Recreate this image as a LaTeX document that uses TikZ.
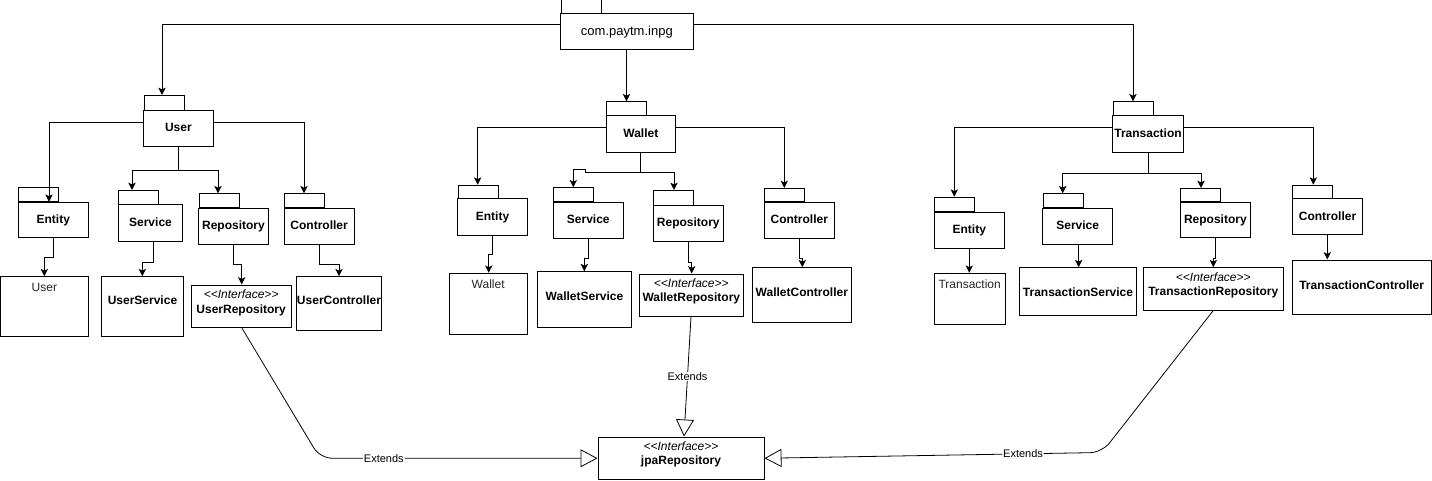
\documentclass[tikz,border=0pt]{standalone}
\usepackage{fontspec}
\setmainfont{Liberation Sans}
\usetikzlibrary{arrows.meta}

% folder-shaped package: body node #2 (with text), tab node #2T above it
% [opts]{name}{left}{top}{right}{bottom}{tab top}{text}
\newcommand\folder[8][]{%
  \node[pkgbody, minimum width={(#5-#3)*0.75pt}, minimum height={(#6-#4)*0.75pt}, #1]
    (#2) at ({(#3+#5)/2},{(#4+#6)/2}) {#8};
  \node[tabbox, minimum height={(#4-#7)*0.75pt}, anchor=south west] (#2T) at (#3,#4) {};
}
% plain class box: {name}{left}{top}{right}{bottom}
\newcommand\cbox[5]{%
  \node[cls, minimum width={(#4-#2)*0.75pt}, minimum height={(#5-#3)*0.75pt}]
    (#1) at ({(#2+#4)/2},{(#3+#5)/2}) {};
}
% text of a class box: [opts]{box}{y}{text}
\newcommand\ctext[4][]{\node[clstext, #1] (#2X) at (#2.center |- 0,#3) {#4};}
\newcommand\iface{{\mdseries\itshape <\kern0pt<Interface>\kern0pt>}}

\begin{document}
\begin{tikzpicture}[x=0.75pt, y=-0.75pt,
  pkgbody/.style={draw, line width=0.75pt, fill=white, inner sep=0pt,
    text height=6.5pt, text depth=1.9pt,
    font=\fontsize{9pt}{10.8pt}\selectfont\bfseries},
  tabbox/.style={draw, line width=0.75pt, inner sep=0pt, minimum width=30pt},
  cls/.style={draw, line width=0.75pt, inner sep=0pt},
  clstext/.style={inner sep=0pt, align=center,
    font=\fontsize{9pt}{10.7pt}\selectfont\bfseries},
  plaintext/.style={font=\fontsize{9pt}{10.7pt}\selectfont\mdseries, text=black!85},
  conn/.style={line width=0.75pt, -{Stealth[length=5.5pt, width=5.5pt, inset=1.3pt]}},
  ext/.style={line width=0.6pt, -{Triangle[open, length=12.75pt, width=13.5pt, line width=0.6pt]}},
  lbl/.style={fill=white, inner sep=0.6pt, font=\fontsize{8.25pt}{10pt}\selectfont}
]
\useasboundingbox (0,0) rectangle (1432,481);

% ---------------- packages ----------------
\folder[font=\fontsize{9.75pt}{12pt}\selectfont\mdseries]{root}{560.7}{14}{693}{50}{0.5}{com.paytm.inpg}

\folder{user}{143.7}{110.7}{213}{146.7}{96}{User}
\folder{uEnt}{18.3}{202.3}{88.3}{237.7}{188.3}{Entity}
\folder{uSrv}{118.3}{205}{182.7}{241.7}{191}{Service}
\folder{uRep}{198.7}{208.3}{268.3}{244.3}{194.3}{Repository}
\folder{uCtl}{284.3}{208.3}{354}{244.3}{194.3}{Controller}

\folder{wal}{606}{116}{675.7}{152.3}{102.3}{Wallet}
\folder{wEnt}{457.7}{199}{527.3}{235.7}{185.7}{Entity}
\folder{wSrv}{553.3}{202.3}{623.3}{238.3}{188.3}{Service}
\folder{wRep}{653.3}{205.7}{723.3}{241.7}{191}{Repository}
\folder{wCtl}{764.3}{202.3}{834.3}{238.3}{189}{Controller}

\folder{tr}{1112.7}{116}{1183.3}{152.3}{102.3}{Transaction}
\folder{tEnt}{934.3}{212.3}{1004.3}{248.3}{197.7}{Entity}
\folder{tSrv}{1042.7}{208.3}{1112.7}{244.3}{194.3}{Service}
\folder{tRep}{1180}{202.3}{1250.7}{237.7}{189}{Repository}
\folder{tCtl}{1292.3}{199}{1362.7}{235}{185.7}{Controller}

% ---------------- classes ----------------
\cbox{uEntC}{0.5}{276.7}{88.3}{336.7}
\cbox{uSrvC}{101.7}{276.7}{183.3}{336.7}
\cbox{uRepC}{191.3}{285}{291}{327.7}
\cbox{uCtlC}{296.3}{276.7}{381.7}{330.7}
\ctext[plaintext]{uEntC}{287}{User}
\ctext{uSrvC}{300.7}{UserService}
\ctext{uRepC}{302.9}{\iface\\UserRepository}
\ctext{uCtlC}{300.7}{UserController}

\cbox{wEntC}{449}{273.3}{527.3}{334}
\cbox{wSrvC}{537.3}{271.7}{631.7}{327.7}
\cbox{wRepC}{639.3}{274}{743.3}{316}
\cbox{wCtlC}{752.7}{267.7}{851}{322.3}
\ctext[plaintext]{wEntC}{284.3}{Wallet}
\ctext{wSrvC}{296.7}{WalletService}
\ctext{wRepC}{291.5}{\iface\\WalletRepository}
\ctext{wCtlC}{292.3}{WalletController}

\cbox{tEntC}{934.3}{273.3}{1005}{324.3}
\cbox{tSrvC}{1019.3}{267.7}{1136.7}{315.7}
\cbox{tRepC}{1143.3}{267.7}{1283.3}{310}
\cbox{tCtlC}{1292.3}{260}{1431}{314.3}
\ctext[plaintext]{tEntC}{284.3}{Transaction}
\ctext{tSrvC}{292.3}{TransactionService}
\ctext{tRepC}{285.7}{\iface\\TransactionRepository}
\ctext{tCtlC}{285}{TransactionController}

\cbox{jpa}{598}{437}{764}{479.5}
\ctext{jpa}{454.6}{\iface\\jpaRepository}

% ---------------- containment arrows ----------------
\draw[conn] (root.west |- 0,25) -| (userT.north -| 162,0);
\draw[conn] (root.south -| 626.5,0) -- (walT.north -| 626.5,0);
\draw[conn] (root.east |- 0,25) -| (trT.north -| 1133,0);

\draw[conn] (user.west |- 0,122.3) -| (uEnt.north -| 49,0);
\draw[conn] (user.south) -- ++(0,23.3) -| (uSrvT.north -| 132,0);
\draw[conn] (user.south) -- ++(0,23.3) -| (uRepT.north -| 218,0);
\draw[conn] (user.east |- 0,122.3) -| (uCtlT.north -| 304,0);
\draw[conn] (uEnt.south -| 53.3,0) -- ++(0,19) -| (uEntC.north -| 44.3,0);
\draw[conn] (uSrv.south -| 153.3,0) -- ++(0,20) -| (uSrvC.north -| 142.3,0);
\draw[conn] (uRep.south -| 233.3,0) -- ++(0,20) -| (uRepC.north -| 241.7,0);
\draw[conn] (uCtl.south -| 319.3,0) -- ++(0,19.7) -| (uCtlC.north -| 339,0);

\draw[conn] (wal.west |- 0,127.3) -| (wEntT.north -| 477.7,0);
\draw[conn] (wal.south -| 640.7,0) -- ++(0,19.4) -- ++(-55,0) -- ++(0,-3) -| (wSrvT.north -| 573.3,0);
\draw[conn] (wal.south -| 640.7,0) -- ++(0,19.4) -| (wRepT.north -| 674,0);
\draw[conn] (wal.east |- 0,127.3) -| (wCtlT.north -| 784.3,0);
\draw[conn] (wEnt.south -| 492.3,0) -- ++(0,18.6) -| (wEntC.north -| 488.7,0);
\draw[conn] (wSrv.south -| 588.3,0) -- ++(0,20) -| (wSrvC.north -| 584.3,0);
\draw[conn] (wRep.south -| 688.7,0) -- ++(0,20.6) -| (wRepC.north -| 691.7,0);
\draw[conn] (wCtl.south -| 799.3,0) -- ++(0,20) -| (wCtlC.north -| 802.3,0);

\draw[conn] (tr.west |- 0,127.3) -| (tEntT.north -| 954.3,0);
\draw[conn] (tr.south -| 1148.3,0) -- ++(0,20.4) -| (tSrvT.north -| 1062.7,0);
\draw[conn] (tr.south -| 1148.3,0) -- ++(0,20.4) -| (tRepT.north -| 1201,0);
\draw[conn] (tr.east |- 0,127.3) -| (tCtlT.north -| 1313.3,0);
\draw[conn] (tEnt.south -| 969.3,0) -- (tEntC.north -| 969.3,0);
\draw[conn] (tSrv.south -| 1078.7,0) -- (tSrvC.north -| 1078.7,0);
\draw[conn] (tRep.south -| 1215,0) -- ++(0,20) -| (tRepC.north -| 1213.3,0);
\draw[conn] (tCtl.south -| 1327.3,0) -- (tCtlC.north -| 1327.3,0);

% ---------------- generalisations ----------------
\draw[ext, rounded corners=9pt] (uRepC.south -| 242,0) -- (320,458.25)
  -- node[lbl, pos=0.23] (ext1) {Extends} (jpa.west);
\draw[ext] (wRepC.south -| 691,0) -- node[lbl] (ext2) {Extends} (jpa.north -| 684,0);
\draw[ext, rounded corners=9pt] (tRepC.south -| 1213.3,0) -- (1102,452.5)
  -- node[lbl, pos=0.234] (ext3) {Extends} (jpa.east);
\end{tikzpicture}
\end{document}
